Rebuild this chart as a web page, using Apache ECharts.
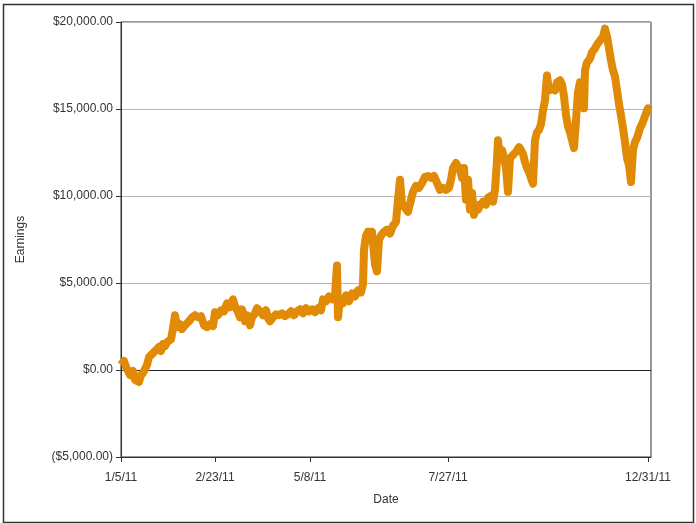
<!DOCTYPE html>
<html>
<head>
<meta charset="utf-8">
<script src="https://cdn.jsdelivr.net/npm/echarts@6/dist/echarts.min.js"></script>
<style>
html,body{margin:0;padding:0;background:#fff;}
#chart{width:696px;height:523px;}
</style>
</head>
<body>
<div id="chart"></div>
<script>
// Horizontal position of each sample along the date axis (axis units, 0 = 1/5/11)
var samplePos = [0,3,5,7,9,12,14,16,18,20,22,24,26,28,30,32,34,36,38,40,42,44,46,48,50,52,54,56,59,61,64,66,68,71,74,77,80,83,86,89,92,94,97,100,103,106,109,112,114,117,119,121,124,126,129,131,134,136,139,142,145,147,149,152,155,158,161,164,167,170,173,176,179,182,185,188,191,194,197,200,202,205,208,211,214,216,217,219,222,225,228,231,234,237,240,242,243,245,247,249,251,254,256,258,260,263,266,269,272,275,277,279,281,284,287,289,292,295,298,301,304,307,310,313,316,319,322,325,328,330,332,335,337,339,341,343,345,347,349,351,353,355,357,359,362,365,367,370,372,374,376,377,379,381,383,385,387,389,392,395,398,400,402,404,406,408,410,412,414,416,418,420,422,424,426,428,431,434,436,439,441,443,445,447,449,451,453,455,457,459,461,463,464,466,469,471,474,476,479,482,484,486,488,490,492,494,496,498,500,502,504,506,508,510,512,514,516,519,521,524,527,529];

// Earnings (US$) at each sample
var earnings = [290,520,170,-60,-290,-60,-570,-460,-690,-290,-170,60,290,740,630,970,860,1200,1320,1090,1490,1370,1600,1490,1770,2400,3150,2460,2630,2350,2570,2460,2800,3030,3150,3030,3090,2570,2460,2630,2520,3320,3150,3430,3370,3830,3600,4060,3660,3320,3030,3490,2800,3150,2570,3030,3260,3550,3370,3150,3430,2970,2800,3030,3200,3150,3260,3090,3200,3370,3150,3370,3490,3260,3550,3370,3490,3320,3550,3430,4060,3950,4230,4060,4290,6000,3030,4060,3830,4290,3950,4400,4230,4580,4460,4920,6920,7720,7950,7610,7950,6060,5660,7490,7720,7950,8070,7840,8290,8520,9780,10930,9550,9320,9090,8980,10240,10580,10470,10750,11100,11150,11040,11150,10750,10350,10470,10350,10470,10930,11610,11900,12010,11500,11040,11610,9780,10930,9210,10180,8920,9500,9210,9440,9670,9500,9900,10010,9670,10350,12070,13210,12180,12640,12180,11610,10240,12180,12360,12530,12810,12640,12410,11950,11610,11380,11040,10700,13210,13670,13790,14130,14930,15500,16930,16070,16190,16070,16530,16650,16420,15730,14640,14010,13670,13560,12760,14360,15960,16530,16190,15040,17220,17670,17900,18250,18480,18700,18930,19160,19620,19160,18480,17790,17220,16870,16070,15270,14640,13900,13100,12180,11780,10810,12640,13100,13330,13900,14130,14590,15040,14930];

// Date tick labels and their positions on the axis
var tickLabels = ['1/5/11','2/23/11','5/8/11','7/27/11','12/31/11'];
var tickPos = [0, 94, 189, 327, 527];

var seriesData = samplePos.map(function (p, i) { return [p, earnings[i]]; });

function money(v) {
  var s = '$' + Math.abs(v).toLocaleString('en-US', {minimumFractionDigits: 2, maximumFractionDigits: 2});
  return v < 0 ? '(' + s + ')' : s;
}

var chart = echarts.init(document.getElementById('chart'), null, {renderer: 'canvas'});
var font = 'Liberation Sans, Arial, sans-serif';
chart.setOption({
  animation: false,
  backgroundColor: '#ffffff',
  grid: {left: 121, right: 45, top: 22, bottom: 66, show: true, borderColor: '#333', borderWidth: 1, containLabel: false},
  xAxis: {
    type: 'value', min: 0, max: 530,
    name: 'Date', nameLocation: 'middle', nameGap: 37,
    nameTextStyle: {fontFamily: font, fontSize: 12, color: '#333'},
    axisLine: {show: true, onZero: false, lineStyle: {color: '#333', width: 1}},
    axisTick: {show: true, length: 5, customValues: tickPos, lineStyle: {color: '#333'}},
    axisLabel: {customValues: tickPos, margin: 15, fontFamily: font, fontSize: 12, color: '#333',
      formatter: function (v) { var i = tickPos.indexOf(v); return i >= 0 ? tickLabels[i] : ''; }},
    splitLine: {show: false}
  },
  yAxis: {
    type: 'value', min: -5000, max: 20000, interval: 5000,
    name: 'Earnings', nameLocation: 'middle', nameGap: 94,
    nameTextStyle: {fontFamily: font, fontSize: 12, color: '#333'},
    axisLine: {show: true, lineStyle: {color: '#333', width: 1}},
    axisTick: {show: true, length: 5, lineStyle: {color: '#333'}},
    axisLabel: {margin: 8, fontFamily: font, fontSize: 12, color: '#333', formatter: money},
    splitLine: {show: true, lineStyle: {color: '#b4b4b4', width: 1}}
  },
  series: [{
    type: 'line',
    data: seriesData,
    showSymbol: false,
    lineStyle: {color: '#e08a06', width: 8, join: 'round'},
    itemStyle: {color: '#e08a06'},
    z: 3,
    markLine: {
      silent: true, symbol: 'none', label: {show: false}, z: 2,
      lineStyle: {color: '#222', width: 1, type: 'solid'},
      data: [{yAxis: 0}]
    }
  }],
  graphic: [{
    type: 'rect', left: 1, top: 2, shape: {width: 690, height: 518},
    style: {fill: 'none', stroke: '#333', lineWidth: 1.5}, silent: true
  }]
});
</script>
</body>
</html>
